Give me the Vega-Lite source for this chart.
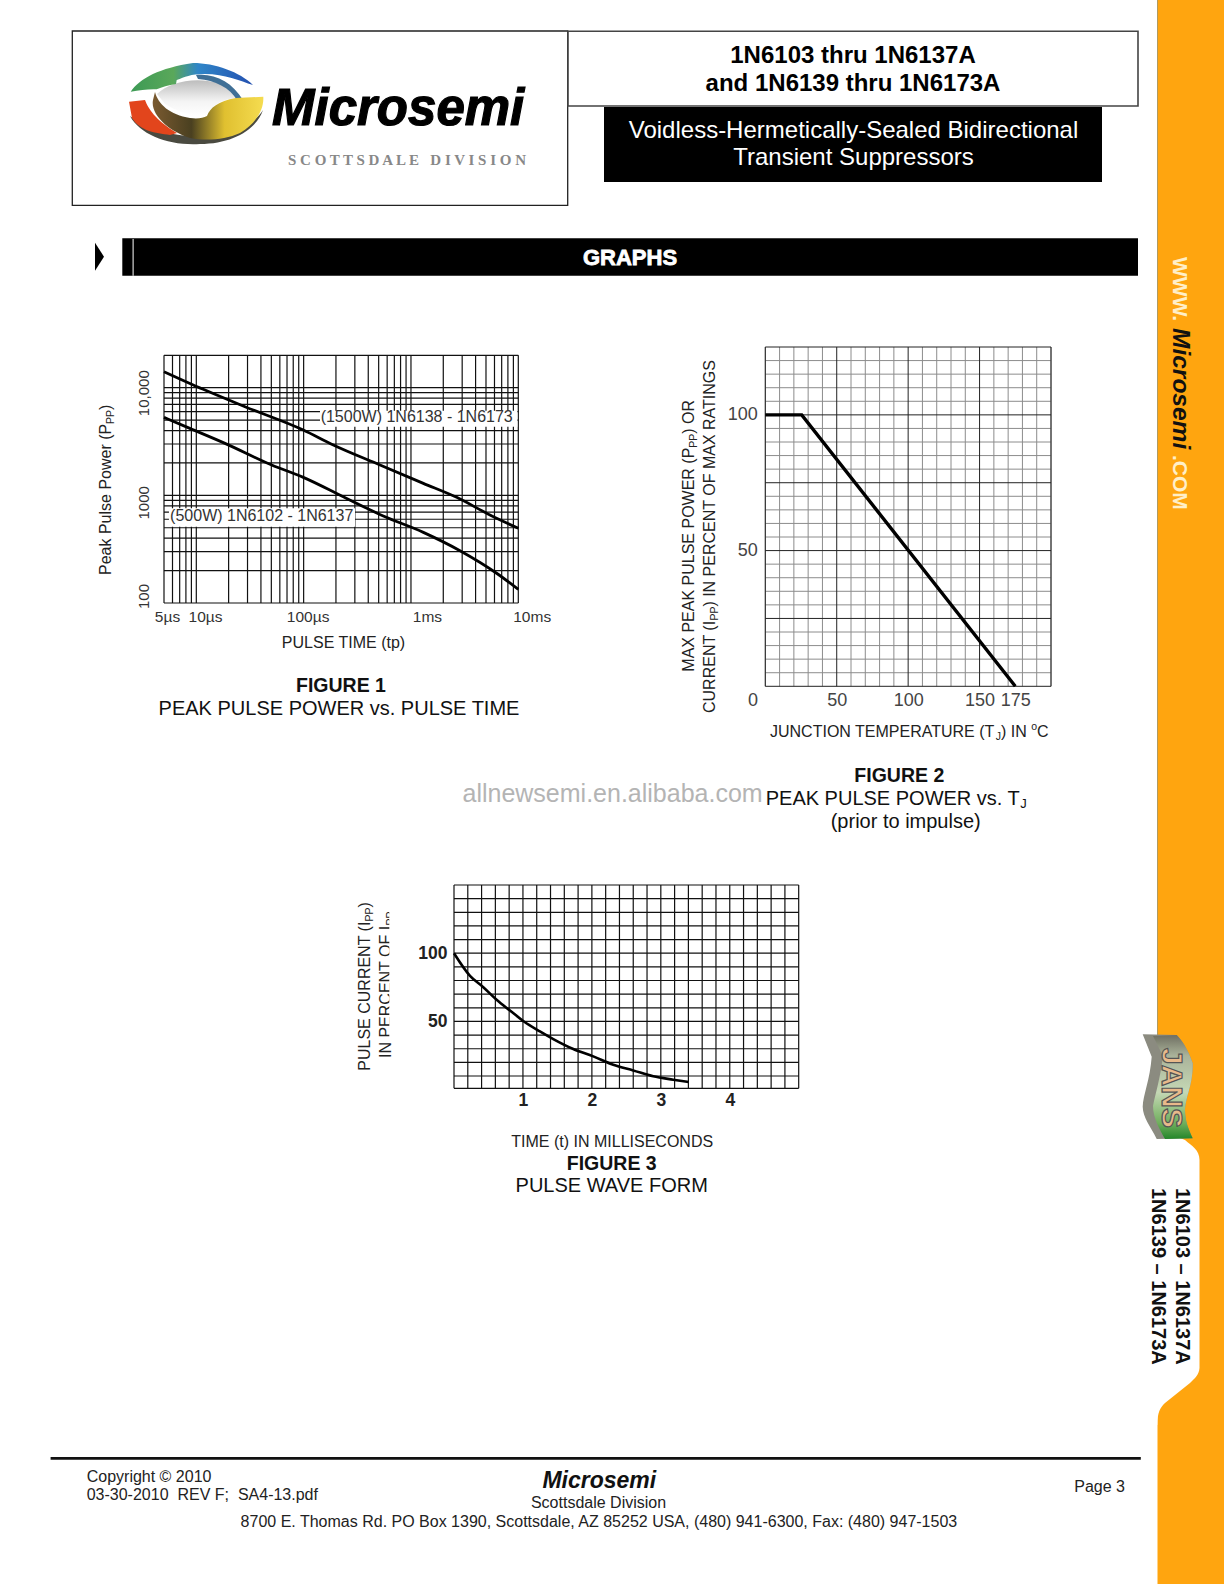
{"$schema":"https://vega.github.io/schema/vega-lite/v6.json","width":1224,"height":1584,"padding":0,"autosize":{"type":"none"},"background":"white","config":{"view":{"stroke":null}},"resolve":{"scale":{"x":"independent","y":"independent"},"axis":{"x":"independent","y":"independent"}},"layer":[
{"data":{"values":[{"part":"sidebar"}]},"mark":{"type":"rect","x":1157.5,"x2":1224,"y":0,"y2":1584,"fill":"#FFA50F","strokeWidth":0},"encoding":{}},
{"data":{"values":[{"part":"sidebar edge"}]},"mark":{"type":"rect","x":1157,"x2":1158,"y":0,"y2":1130,"fill":"#b09a60"},"encoding":{}},
{"data":{"values":[{"part":"tab"}]},"mark":{"type":"point","shape":"M1156,1128 L1185,1140 C1192,1146 1199.5,1150 1199.5,1160 L1199.5,1368 C1199,1375 1195,1378 1190,1383 L1165,1403 C1160,1408 1157.5,1412 1157.3,1425 L1156,1425 Z","size":4,"x":0,"y":0,"filled":true,"fill":"white","strokeWidth":0,"opacity":1},"encoding":{}},
{"data":{"values":[{"part":"banner"}]},"mark":{"type":"point","shape":"M1142.7,1034.3 L1176.7,1035 C1184,1042 1190,1055 1192.7,1063.3 C1193,1085 1186,1095 1185,1110 C1185,1122 1189,1130 1192.7,1138.3 L1156.7,1139 C1150,1125 1143,1118 1142.7,1106.7 C1143,1095 1150,1080 1151.7,1056.7 Z","size":4,"x":0,"y":0,"filled":true,"fill":"#8b8b80","strokeWidth":0,"opacity":1},"encoding":{}},
{"data":{"values":[{"part":"banner face"}]},"mark":{"type":"point","shape":"M1153,1036 L1176.7,1035 C1184,1042 1190,1055 1192.7,1063.3 C1193,1085 1186,1095 1185,1110 C1185,1122 1189,1130 1192.7,1138.3 L1165,1139 C1160,1130 1153,1118 1153,1106 C1155,1095 1160,1080 1163,1056 Z","size":4,"x":0,"y":0,"filled":true,"fill":{"gradient":"linear","x1":0,"y1":0,"x2":0,"y2":1,"stops":[{"offset":0,"color":"#6f6f62"},{"offset":0.2,"color":"#aab39a"},{"offset":0.55,"color":"#c5d8b5"},{"offset":0.85,"color":"#6fae5c"},{"offset":1,"color":"#23862a"}]},"strokeWidth":0,"opacity":1},"encoding":{}},
{"data":{"values":[{"t":"JANS"}]},"mark":{"type":"text","font":"Liberation Sans","fontWeight":"bold","fontSize":30,"angle":90,"align":"left","baseline":"alphabetic","x":1162,"y":1048,"fill":"#e8b98a","stroke":"#555555","strokeWidth":1.2},"encoding":{"text":{"field":"t"}}},
{"data":{"values":[{"t":"WWW."}]},"mark":{"type":"text","font":"Liberation Sans","fontWeight":"bold","fontSize":21,"angle":90,"align":"left","baseline":"alphabetic","x":1172.5,"y":257,"fill":"#FFEFC8"},"encoding":{"text":{"field":"t"}}},
{"data":{"values":[{"t":"Microsemi"}]},"mark":{"type":"text","font":"Liberation Sans","fontWeight":"bold","fontStyle":"italic","fontSize":24.5,"angle":90,"align":"left","baseline":"alphabetic","x":1172.5,"y":328,"fill":"#111111"},"encoding":{"text":{"field":"t"}}},
{"data":{"values":[{"t":".COM"}]},"mark":{"type":"text","font":"Liberation Sans","fontWeight":"bold","fontSize":21,"angle":90,"align":"left","baseline":"alphabetic","x":1172.5,"y":455,"fill":"#FFEFC8"},"encoding":{"text":{"field":"t"}}},
{"data":{"values":[{"t":"1N6103 – 1N6137A"}]},"mark":{"type":"text","font":"Liberation Sans","fontWeight":"bold","fontSize":20,"angle":90,"align":"left","baseline":"alphabetic","x":1176,"y":1188,"fill":"#111111"},"encoding":{"text":{"field":"t"}}},
{"data":{"values":[{"t":"1N6139 – 1N6173A"}]},"mark":{"type":"text","font":"Liberation Sans","fontWeight":"bold","fontSize":20,"angle":90,"align":"left","baseline":"alphabetic","x":1152,"y":1188,"fill":"#111111"},"encoding":{"text":{"field":"t"}}},

{"data":{"values":[{"part":"logo box"}]},"mark":{"type":"rect","x":72.3,"x2":567.7,"y":31,"y2":205.3,"fill":"white","stroke":"#222222","strokeWidth":1.3},"encoding":{}},
{"data":{"values":[{"part":"title box"}]},"mark":{"type":"rect","x":568,"x2":1138,"y":31.3,"y2":106,"fill":"white","stroke":"#444444","strokeWidth":1.6},"encoding":{}},
{"data":{"values":[{"part":"subtitle box"}]},"mark":{"type":"rect","x":604,"x2":1102,"y":107,"y2":182,"fill":"#000000"},"encoding":{}},
{"data":{"values":[{"part":"graphs bar"}]},"mark":{"type":"rect","x":122.3,"x2":1138,"y":238.3,"y2":275.7,"fill":"#000000"},"encoding":{}},
{"data":{"values":[{"part":"graphs bar divider"}]},"mark":{"type":"rect","x":132.6,"x2":133.6,"y":239,"y2":275.7,"fill":"#ffffff"},"encoding":{}},
{"data":{"values":[{"part":"arrow"}]},"mark":{"type":"point","shape":"M95,242.7 L104,256.7 L95,270.7 Z","size":4,"x":0,"y":0,"filled":true,"fill":"#000000","strokeWidth":0,"opacity":1},"encoding":{}},
{"data":{"values":[{"part":"footer line"}]},"mark":{"type":"rect","x":50.6,"x2":1140.8,"y":1457,"y2":1459.7,"fill":"#111111"},"encoding":{}},

{"data":{"values":[{"part":"logo shadow"}]},"mark":{"type":"point","shape":"M130,116 C140,135 170,146 200,144 C232,144 256,130 263,110 C255,125 225,136 195,136 C170,136 145,128 130,116 Z","size":4,"x":0,"y":0,"filled":true,"fill":"#4a4a40","strokeWidth":0,"opacity":1},"encoding":{}},
{"data":{"values":[{"part":"logo hollow"}]},"mark":{"type":"point","shape":"M157,94 C170,82 195,76 222,84 C233,89 238,95 241,98 C226,98 215,102 208,114 C195,118 178,112 165,104 Z","size":4,"x":0,"y":0,"filled":true,"fill":{"gradient":"linear","x1":0,"y1":0,"x2":0,"y2":1,"stops":[{"offset":0,"color":"#bdbdbd"},{"offset":0.6,"color":"#f4f4f4"},{"offset":1,"color":"#ffffff"}]},"strokeWidth":0,"opacity":1},"encoding":{}},
{"data":{"values":[{"part":"logo red"}]},"mark":{"type":"point","shape":"M129,101.7 L145,100 C148,108 155,120 177,133 L170,135 C155,133 140,131 132,118 Z","size":4,"x":0,"y":0,"filled":true,"fill":"#e2451c","strokeWidth":0,"opacity":1},"encoding":{}},
{"data":{"values":[{"part":"logo inner arc"}]},"mark":{"type":"point","shape":"M196,75 C215,73 232,82 243,100 L237,100 C230,88 215,80 198,79 Z","size":4,"x":0,"y":0,"filled":true,"fill":"#3f6f96","strokeWidth":0,"opacity":1},"encoding":{}},
{"data":{"values":[{"part":"logo top arc"}]},"mark":{"type":"point","shape":"M130.7,91.7 C140,78 160,68 193,63 C215,63 240,72 253,85 C240,81 225,74 205,74 C190,74 185,77 176.7,80 L176,84 C168,85 162,87 156.7,89.3 C148,89 140,90 130.7,91.7 Z","size":4,"x":0,"y":0,"filled":true,"fill":{"gradient":"linear","x1":0,"y1":0,"x2":1,"y2":0,"stops":[{"offset":0,"color":"#3d9a55"},{"offset":0.35,"color":"#5aa85a"},{"offset":0.55,"color":"#2f86c8"},{"offset":1,"color":"#2450b0"}]},"strokeWidth":0,"opacity":1},"encoding":{}},
{"data":{"values":[{"part":"logo swoosh"}]},"mark":{"type":"point","shape":"M155,92 C158,104 170,115 190,118 C198,119 203,118 207,116 C210,108 218,101 236,98 C245,98 255,97 263.3,96.7 C264,108 258,122 240,133 C225,140 205,141 190,138 C170,132 150,115 153,100 Z","size":4,"x":0,"y":0,"filled":true,"fill":{"gradient":"linear","x1":0,"y1":0,"x2":1,"y2":0,"stops":[{"offset":0,"color":"#7a5a30"},{"offset":0.35,"color":"#4a4020"},{"offset":0.65,"color":"#e0c030"},{"offset":1,"color":"#f5dc50"}]},"strokeWidth":0,"opacity":1},"encoding":{}},
{"data":{"values":[{"t":"Microsemi"}]},"mark":{"type":"text","font":"Liberation Sans","fontWeight":"bold","fontStyle":"italic","fontSize":51,"align":"left","baseline":"alphabetic","x":272,"y":125,"fill":"#000000","stroke":"#000000","strokeWidth":1.2},"encoding":{"text":{"field":"t"}}},
{"data":{"values":[{"t":"S C O T T S D A L E \u00a0 D I V I S I O N"}]},"mark":{"type":"text","font":"Liberation Serif","fontWeight":"bold","fontSize":15,"align":"left","baseline":"alphabetic","x":288,"y":165,"fill":"#888888"},"encoding":{"text":{"field":"t"}}},

{"data":{"values":[{"t":"1N6103 thru 1N6137A"}]},"mark":{"type":"text","font":"Liberation Sans","fontWeight":"bold","fontSize":24,"align":"center","baseline":"alphabetic","x":853,"y":63,"fill":"#000000"},"encoding":{"text":{"field":"t"}}},
{"data":{"values":[{"t":"and 1N6139 thru 1N6173A"}]},"mark":{"type":"text","font":"Liberation Sans","fontWeight":"bold","fontSize":24,"align":"center","baseline":"alphabetic","x":853,"y":91,"fill":"#000000"},"encoding":{"text":{"field":"t"}}},
{"data":{"values":[{"t":"Voidless-Hermetically-Sealed Bidirectional"}]},"mark":{"type":"text","font":"Liberation Sans","fontSize":24,"align":"center","baseline":"alphabetic","x":853.5,"y":137.5,"fill":"#ffffff"},"encoding":{"text":{"field":"t"}}},
{"data":{"values":[{"t":"Transient Suppressors"}]},"mark":{"type":"text","font":"Liberation Sans","fontSize":24,"align":"center","baseline":"alphabetic","x":853.5,"y":165,"fill":"#ffffff"},"encoding":{"text":{"field":"t"}}},
{"data":{"values":[{"t":"GRAPHS"}]},"mark":{"type":"text","font":"Liberation Sans","fontWeight":"bold","fontSize":22,"align":"center","baseline":"alphabetic","x":630,"y":265,"fill":"#ffffff","stroke":"#ffffff","strokeWidth":0.8},"encoding":{"text":{"field":"t"}}},

{"data":{"values":[{"t":5},{"t":6},{"t":7},{"t":8},{"t":9},{"t":10},{"t":20},{"t":30},{"t":40},{"t":50},{"t":60},{"t":70},{"t":80},{"t":90},{"t":100},{"t":200},{"t":300},{"t":400},{"t":500},{"t":600},{"t":700},{"t":800},{"t":900},{"t":1000},{"t":2000},{"t":3000},{"t":4000},{"t":5000},{"t":6000},{"t":7000},{"t":8000},{"t":9000},{"t":10000}]},"mark":{"type":"rule","stroke":"#111111","strokeWidth":1.2},"encoding":{"x":{"field":"t","type":"quantitative","scale":{"type":"log","domain":[5,10000],"range":[164,518.3],"nice":false},"axis":null},"y":{"datum":100,"type":"quantitative","scale":{"type":"log","domain":[100,20000],"range":[603,355.3],"nice":false},"axis":null},"y2":{"datum":20000}}},
{"data":{"values":[{"p":100},{"p":200},{"p":300},{"p":400},{"p":500},{"p":600},{"p":700},{"p":800},{"p":900},{"p":1000},{"p":2000},{"p":3000},{"p":4000},{"p":5000},{"p":6000},{"p":7000},{"p":8000},{"p":9000},{"p":10000},{"p":20000}]},"mark":{"type":"rule","stroke":"#111111","strokeWidth":1.2},"encoding":{"y":{"field":"p","type":"quantitative","scale":{"type":"log","domain":[100,20000],"range":[603,355.3],"nice":false},"axis":null},"x":{"datum":5,"type":"quantitative","scale":{"type":"log","domain":[5,10000],"range":[164,518.3],"nice":false},"axis":null},"x2":{"datum":10000}}},
{"data":{"values":[{"t0":142,"t1":9800,"p0":6110,"p1":4340},{"t0":5.56,"t1":301,"p0":757,"p1":512}]},"mark":{"type":"rect","fill":"#ffffff"},"encoding":{"x":{"field":"t0","type":"quantitative","scale":{"type":"log","domain":[5,10000],"range":[164,518.3],"nice":false},"axis":null},"x2":{"field":"t1"},"y":{"field":"p0","type":"quantitative","scale":{"type":"log","domain":[100,20000],"range":[603,355.3],"nice":false},"axis":null},"y2":{"field":"p1"}}},
{"data":{"values":[{"label":"(1500W) 1N6138 - 1N6173","t":144,"p":5300},{"label":"(500W) 1N6102 - 1N6137","t":5.7,"p":647}]},"mark":{"type":"text","font":"Liberation Sans","fontSize":16,"align":"left","baseline":"middle","fill":"#333333"},"encoding":{"text":{"field":"label"},"x":{"field":"t","type":"quantitative","scale":{"type":"log","domain":[5,10000],"range":[164,518.3],"nice":false},"axis":null},"y":{"field":"p","type":"quantitative","scale":{"type":"log","domain":[100,20000],"range":[603,355.3],"nice":false},"axis":null}}},
{"data":{"values":[{"series":"1500W","t":5,"p":14090},{"series":"1500W","t":11.6,"p":9660},{"series":"1500W","t":28.4,"p":6660},{"series":"1500W","t":99.3,"p":4045},{"series":"1500W","t":189,"p":2934},{"series":"1500W","t":515,"p":1914},{"series":"1500W","t":1304,"p":1293},{"series":"1500W","t":2666,"p":958},{"series":"1500W","t":5445,"p":657},{"series":"1500W","t":10000,"p":494},{"series":"500W","t":5,"p":5300},{"series":"500W","t":8.7,"p":4190},{"series":"500W","t":18.5,"p":3040},{"series":"500W","t":50.4,"p":1914},{"series":"500W","t":99.3,"p":1470},{"series":"500W","t":234,"p":972},{"series":"500W","t":552,"p":643},{"series":"500W","t":1304,"p":453},{"series":"500W","t":2863,"p":306},{"series":"500W","t":6280,"p":189},{"series":"500W","t":10000,"p":134}]},"mark":{"type":"line","stroke":"#000000","strokeWidth":2.8,"interpolate":"monotone"},"encoding":{"detail":{"field":"series"},"x":{"field":"t","type":"quantitative","scale":{"type":"log","domain":[5,10000],"range":[164,518.3],"nice":false},"axis":{"orient":"bottom","offset":-981,"values":[5,10,100,1000,10000],"domain":false,"ticks":false,"tickSize":0,"grid":false,"labelFont":"Liberation Sans","labelFontSize":15.5,"labelColor":"#333333","labelBaseline":"middle","labelPadding":13.7,"labelOverlap":false,"labelFlush":false,"labelBound":false,"labelExpr":"datum.value==5?'5µs':datum.value==10?'10µs':datum.value==100?'100µs':datum.value==1000?'1ms':'10ms'","encoding":{"labels":{"dx":{"value":{"expr":"datum.value==5?3:datum.value==10?8.7:datum.value==100?4:datum.value==1000?16:13.4"}}}},"title":"PULSE TIME (tp)","titleFont":"Liberation Sans","titleFontSize":16,"titleFontWeight":"normal","titleColor":"#222222","titleX":343,"titleY":39,"titleBaseline":"middle"}},"y":{"field":"p","type":"quantitative","scale":{"type":"log","domain":[100,20000],"range":[603,355.3],"nice":false},"axis":{"orient":"left","offset":-164,"values":[100,1000,10000],"domain":false,"ticks":false,"tickSize":0,"grid":false,"labelFont":"Liberation Sans","labelFontSize":15,"labelColor":"#333333","labelAngle":270,"labelAlign":"center","labelBaseline":"middle","labelPadding":21,"labelOverlap":false,"labelFlush":false,"labelBound":false,"labelExpr":"datum.value==100?'100':datum.value==1000?'1000':'10,000'","encoding":{"labels":{"dx":{"value":{"expr":"datum.value==100?7:datum.value==1000?-7:-5"}}}},"title":null}}}},
{"data":{"values":[{"t":"Peak Pulse Power (P"}]},"mark":{"type":"text","font":"Liberation Sans","fontSize":16,"angle":270,"align":"left","baseline":"alphabetic","x":110.5,"y":575,"fill":"#222222"},"encoding":{"text":{"field":"t"}}},
{"data":{"values":[{"t":"PP"}]},"mark":{"type":"text","font":"Liberation Sans","fontSize":10.5,"angle":270,"align":"left","baseline":"alphabetic","x":113.5,"y":424,"fill":"#222222"},"encoding":{"text":{"field":"t"}}},
{"data":{"values":[{"t":")"}]},"mark":{"type":"text","font":"Liberation Sans","fontSize":16,"angle":270,"align":"left","baseline":"alphabetic","x":110.5,"y":410,"fill":"#222222"},"encoding":{"text":{"field":"t"}}},
{"data":{"values":[{"t":"FIGURE 1"}]},"mark":{"type":"text","font":"Liberation Sans","fontWeight":"bold","fontSize":19.5,"align":"center","baseline":"alphabetic","x":341,"y":692,"fill":"#111111"},"encoding":{"text":{"field":"t"}}},
{"data":{"values":[{"t":"PEAK PULSE POWER vs. PULSE TIME"}]},"mark":{"type":"text","font":"Liberation Sans","fontSize":20,"align":"center","baseline":"alphabetic","x":339,"y":715,"fill":"#111111"},"encoding":{"text":{"field":"t"}}},

{"data":{"values":[{"t":0},{"t":10},{"t":20},{"t":30},{"t":40},{"t":60},{"t":70},{"t":80},{"t":90},{"t":110},{"t":120},{"t":130},{"t":140},{"t":160},{"t":170},{"t":180},{"t":190},{"t":200}]},"mark":{"type":"rule","stroke":"#8c8c8c","strokeWidth":1},"encoding":{"x":{"field":"t","type":"quantitative","scale":{"type":"linear","domain":[0,200],"range":[765.3,1051],"nice":false,"zero":false},"axis":null},"y":{"datum":0,"type":"quantitative","scale":{"type":"linear","domain":[0,125],"range":[686.3,347],"nice":false,"zero":false},"axis":null},"y2":{"datum":125}}},
{"data":{"values":[{"p":5},{"p":10},{"p":15},{"p":20},{"p":30},{"p":35},{"p":40},{"p":45},{"p":55},{"p":60},{"p":65},{"p":70},{"p":80},{"p":85},{"p":90},{"p":95},{"p":105},{"p":110},{"p":115},{"p":120}]},"mark":{"type":"rule","stroke":"#8c8c8c","strokeWidth":1},"encoding":{"y":{"field":"p","type":"quantitative","scale":{"type":"linear","domain":[0,125],"range":[686.3,347],"nice":false,"zero":false},"axis":null},"x":{"datum":0,"type":"quantitative","scale":{"type":"linear","domain":[0,200],"range":[765.3,1051],"nice":false,"zero":false},"axis":null},"x2":{"datum":200}}},
{"data":{"values":[{"t":0},{"t":50},{"t":100},{"t":150},{"t":200}]},"mark":{"type":"rule","stroke":"#222222","strokeWidth":1},"encoding":{"x":{"field":"t","type":"quantitative","scale":{"type":"linear","domain":[0,200],"range":[765.3,1051],"nice":false,"zero":false},"axis":null},"y":{"datum":0,"type":"quantitative","scale":{"type":"linear","domain":[0,125],"range":[686.3,347],"nice":false,"zero":false},"axis":null},"y2":{"datum":125}}},
{"data":{"values":[{"p":0},{"p":25},{"p":50},{"p":75},{"p":100},{"p":125}]},"mark":{"type":"rule","stroke":"#222222","strokeWidth":1},"encoding":{"y":{"field":"p","type":"quantitative","scale":{"type":"linear","domain":[0,125],"range":[686.3,347],"nice":false,"zero":false},"axis":null},"x":{"datum":0,"type":"quantitative","scale":{"type":"linear","domain":[0,200],"range":[765.3,1051],"nice":false,"zero":false},"axis":null},"x2":{"datum":200}}},
{"data":{"values":[{"t":0,"p":100},{"t":25.5,"p":100},{"t":175,"p":0}]},"mark":{"type":"line","stroke":"#000000","strokeWidth":3.4},"encoding":{"x":{"field":"t","type":"quantitative","scale":{"type":"linear","domain":[0,200],"range":[765.3,1051],"nice":false,"zero":false},"axis":{"orient":"bottom","offset":-897.7,"values":[0,50,100,150,175],"domain":false,"ticks":false,"tickSize":0,"grid":false,"labelFont":"Liberation Sans","labelFontSize":18,"labelColor":"#444444","labelBaseline":"middle","labelPadding":14.4,"labelOverlap":false,"labelFlush":false,"labelBound":false,"encoding":{"labels":{"dx":{"value":{"expr":"datum.value==0?-12.7:0"}}}},"title":null}},"y":{"field":"p","type":"quantitative","scale":{"type":"linear","domain":[0,125],"range":[686.3,347],"nice":false,"zero":false},"axis":{"orient":"left","offset":-765.3,"values":[50,100],"domain":false,"ticks":false,"tickSize":0,"grid":false,"labelFont":"Liberation Sans","labelFontSize":18,"labelColor":"#444444","labelPadding":8,"labelOverlap":false,"labelFlush":false,"labelBound":false,"title":null}}}},
{"data":{"values":[{"t":"MAX PEAK PULSE POWER (P"}]},"mark":{"type":"text","font":"Liberation Sans","fontSize":16,"angle":270,"align":"left","baseline":"alphabetic","x":693.7,"y":671.7,"fill":"#222222"},"encoding":{"text":{"field":"t"}}},
{"data":{"values":[{"t":"PP"}]},"mark":{"type":"text","font":"Liberation Sans","fontSize":10.5,"angle":270,"align":"left","baseline":"alphabetic","x":696.7,"y":447.7,"fill":"#222222"},"encoding":{"text":{"field":"t"}}},
{"data":{"values":[{"t":") OR"}]},"mark":{"type":"text","font":"Liberation Sans","fontSize":16,"angle":270,"align":"left","baseline":"alphabetic","x":693.7,"y":433.7,"fill":"#222222"},"encoding":{"text":{"field":"t"}}},
{"data":{"values":[{"t":"CURRENT (I"}]},"mark":{"type":"text","font":"Liberation Sans","fontSize":16,"angle":270,"align":"left","baseline":"alphabetic","x":714.7,"y":713,"fill":"#222222"},"encoding":{"text":{"field":"t"}}},
{"data":{"values":[{"t":"PP"}]},"mark":{"type":"text","font":"Liberation Sans","fontSize":10.5,"angle":270,"align":"left","baseline":"alphabetic","x":717.7,"y":620.6,"fill":"#222222"},"encoding":{"text":{"field":"t"}}},
{"data":{"values":[{"t":") IN PERCENT OF MAX RATINGS"}]},"mark":{"type":"text","font":"Liberation Sans","fontSize":16,"angle":270,"align":"left","baseline":"alphabetic","x":714.7,"y":606.6,"fill":"#222222"},"encoding":{"text":{"field":"t"}}},
{"data":{"values":[{"t":"JUNCTION TEMPERATURE (T"}]},"mark":{"type":"text","font":"Liberation Sans","fontSize":16,"align":"left","baseline":"alphabetic","x":770,"y":737,"fill":"#222222"},"encoding":{"text":{"field":"t"}}},
{"data":{"values":[{"t":"J"}]},"mark":{"type":"text","font":"Liberation Sans","fontSize":10.5,"align":"left","baseline":"alphabetic","x":995.8,"y":740,"fill":"#222222"},"encoding":{"text":{"field":"t"}}},
{"data":{"values":[{"t":") IN"}]},"mark":{"type":"text","font":"Liberation Sans","fontSize":16,"align":"left","baseline":"alphabetic","x":1001,"y":737,"fill":"#222222"},"encoding":{"text":{"field":"t"}}},
{"data":{"values":[{"t":"o"}]},"mark":{"type":"text","font":"Liberation Sans","fontSize":10.5,"align":"left","baseline":"alphabetic","x":1031.3,"y":730,"fill":"#222222"},"encoding":{"text":{"field":"t"}}},
{"data":{"values":[{"t":"C"}]},"mark":{"type":"text","font":"Liberation Sans","fontSize":16,"align":"left","baseline":"alphabetic","x":1037.1,"y":737,"fill":"#222222"},"encoding":{"text":{"field":"t"}}},
{"data":{"values":[{"t":"FIGURE 2"}]},"mark":{"type":"text","font":"Liberation Sans","fontWeight":"bold","fontSize":19.5,"align":"center","baseline":"alphabetic","x":899.3,"y":782,"fill":"#111111"},"encoding":{"text":{"field":"t"}}},
{"data":{"values":[{"t":"PEAK PULSE POWER vs. T"}]},"mark":{"type":"text","font":"Liberation Sans","fontSize":20,"align":"left","baseline":"alphabetic","x":765.7,"y":804.7,"fill":"#111111"},"encoding":{"text":{"field":"t"}}},
{"data":{"values":[{"t":"J"}]},"mark":{"type":"text","font":"Liberation Sans","fontSize":13,"align":"left","baseline":"alphabetic","x":1020.2,"y":807.5,"fill":"#111111"},"encoding":{"text":{"field":"t"}}},
{"data":{"values":[{"t":"(prior to impulse)"}]},"mark":{"type":"text","font":"Liberation Sans","fontSize":20,"align":"center","baseline":"alphabetic","x":905.7,"y":828,"fill":"#111111"},"encoding":{"text":{"field":"t"}}},
{"data":{"values":[{"t":"allnewsemi.en.alibaba.com"}]},"mark":{"type":"text","font":"Liberation Sans","fontSize":25,"align":"left","baseline":"alphabetic","x":462.5,"y":802,"fill":"#b4b4b4"},"encoding":{"text":{"field":"t"}}},

{"data":{"values":[{"t":0},{"t":0.2},{"t":0.4},{"t":0.6},{"t":0.8},{"t":1},{"t":1.2},{"t":1.4},{"t":1.6},{"t":1.8},{"t":2},{"t":2.2},{"t":2.4},{"t":2.6},{"t":2.8},{"t":3},{"t":3.2},{"t":3.4},{"t":3.6},{"t":3.8},{"t":4},{"t":4.2},{"t":4.4},{"t":4.6},{"t":4.8},{"t":5}]},"mark":{"type":"rule","stroke":"#111111","strokeWidth":1.2},"encoding":{"x":{"field":"t","type":"quantitative","scale":{"type":"linear","domain":[0,5],"range":[454,798.7],"nice":false,"zero":false},"axis":null},"y":{"datum":1,"type":"quantitative","scale":{"type":"linear","domain":[1,150],"range":[1088.3,885],"nice":false,"zero":false},"axis":null},"y2":{"datum":150}}},
{"data":{"values":[{"p":1},{"p":10},{"p":20},{"p":30},{"p":40},{"p":50},{"p":60},{"p":70},{"p":80},{"p":90},{"p":100},{"p":110},{"p":120},{"p":130},{"p":140},{"p":150}]},"mark":{"type":"rule","stroke":"#111111","strokeWidth":1.2},"encoding":{"y":{"field":"p","type":"quantitative","scale":{"type":"linear","domain":[1,150],"range":[1088.3,885],"nice":false,"zero":false},"axis":null},"x":{"datum":0,"type":"quantitative","scale":{"type":"linear","domain":[0,5],"range":[454,798.7],"nice":false,"zero":false},"axis":null},"x2":{"datum":5}}},
{"data":{"values":[{"t":0,"p":100},{"t":0.232,"p":83.4},{"t":0.425,"p":75.1},{"t":0.618,"p":65.9},{"t":0.812,"p":58},{"t":1.014,"p":50},{"t":1.246,"p":42.7},{"t":1.44,"p":37.1},{"t":1.73,"p":29.8},{"t":2.02,"p":24.4},{"t":2.31,"p":18.3},{"t":2.6,"p":14.1},{"t":2.89,"p":9.8},{"t":3.18,"p":7.3},{"t":3.4,"p":5.6}]},"mark":{"type":"line","stroke":"#000000","strokeWidth":2.6,"interpolate":"monotone"},"encoding":{"x":{"field":"t","type":"quantitative","scale":{"type":"linear","domain":[0,5],"range":[454,798.7],"nice":false,"zero":false},"axis":{"orient":"bottom","offset":-495.7,"values":[1,2,3,4],"domain":false,"ticks":false,"tickSize":0,"grid":false,"labelFont":"Liberation Sans","labelFontSize":17.5,"labelFontWeight":"bold","labelColor":"#222222","labelBaseline":"middle","labelPadding":11.7,"labelOverlap":false,"labelFlush":false,"labelBound":false,"title":"TIME (t) IN MILLISECONDS","titleFont":"Liberation Sans","titleFontSize":16,"titleFontWeight":"normal","titleColor":"#222222","titleX":611.7,"titleY":53.4,"titleBaseline":"middle"}},"y":{"field":"p","type":"quantitative","scale":{"type":"linear","domain":[1,150],"range":[1088.3,885],"nice":false,"zero":false},"axis":{"orient":"left","offset":-454,"values":[50,100],"domain":false,"ticks":false,"tickSize":0,"grid":false,"labelFont":"Liberation Sans","labelFontSize":17.5,"labelFontWeight":"bold","labelColor":"#222222","labelPadding":7,"labelOverlap":false,"labelFlush":false,"labelBound":false,"title":null}}}},
{"data":{"values":[{"t":"PULSE CURRENT (I"}]},"mark":{"type":"text","font":"Liberation Sans","fontSize":16,"angle":270,"align":"left","baseline":"alphabetic","x":369.7,"y":1070.7,"fill":"#222222"},"encoding":{"text":{"field":"t"}}},
{"data":{"values":[{"t":"PP"}]},"mark":{"type":"text","font":"Liberation Sans","fontSize":10.5,"angle":270,"align":"left","baseline":"alphabetic","x":372.7,"y":921.4,"fill":"#222222"},"encoding":{"text":{"field":"t"}}},
{"data":{"values":[{"t":")"}]},"mark":{"type":"text","font":"Liberation Sans","fontSize":16,"angle":270,"align":"left","baseline":"alphabetic","x":369.7,"y":907.4,"fill":"#222222"},"encoding":{"text":{"field":"t"}}},
{"data":{"values":[{"t":"IN PERCENT OF I"}]},"mark":{"type":"text","font":"Liberation Sans","fontSize":16,"angle":270,"align":"left","baseline":"alphabetic","x":391,"y":1058,"fill":"#222222"},"encoding":{"text":{"field":"t"}}},
{"data":{"values":[{"t":"PP"}]},"mark":{"type":"text","font":"Liberation Sans","fontSize":10.5,"angle":270,"align":"left","baseline":"alphabetic","x":394,"y":925.5,"fill":"#222222"},"encoding":{"text":{"field":"t"}}},
{"data":{"values":[{"part":"text clip"}]},"mark":{"type":"rect","x":389.3,"x2":397,"y":905,"y2":1040,"fill":"#ffffff"},"encoding":{}},
{"data":{"values":[{"t":"FIGURE 3"}]},"mark":{"type":"text","font":"Liberation Sans","fontWeight":"bold","fontSize":19.5,"align":"center","baseline":"alphabetic","x":611.7,"y":1170,"fill":"#111111"},"encoding":{"text":{"field":"t"}}},
{"data":{"values":[{"t":"PULSE WAVE FORM"}]},"mark":{"type":"text","font":"Liberation Sans","fontSize":20,"align":"center","baseline":"alphabetic","x":611.7,"y":1192,"fill":"#111111"},"encoding":{"text":{"field":"t"}}},

{"data":{"values":[{"t":"Copyright © 2010"}]},"mark":{"type":"text","font":"Liberation Sans","fontSize":16,"align":"left","baseline":"alphabetic","x":86.7,"y":1481.7,"fill":"#222222"},"encoding":{"text":{"field":"t"}}},
{"data":{"values":[{"t":"03-30-2010 \u00a0REV F; \u00a0SA4-13.pdf"}]},"mark":{"type":"text","font":"Liberation Sans","fontSize":16,"align":"left","baseline":"alphabetic","x":86.7,"y":1500,"fill":"#222222"},"encoding":{"text":{"field":"t"}}},
{"data":{"values":[{"t":"Microsemi"}]},"mark":{"type":"text","font":"Liberation Sans","fontWeight":"bold","fontStyle":"italic","fontSize":23,"align":"center","baseline":"alphabetic","x":599.3,"y":1487.5,"fill":"#111111"},"encoding":{"text":{"field":"t"}}},
{"data":{"values":[{"t":"Scottsdale Division"}]},"mark":{"type":"text","font":"Liberation Sans","fontSize":16,"align":"center","baseline":"alphabetic","x":598.5,"y":1508,"fill":"#222222"},"encoding":{"text":{"field":"t"}}},
{"data":{"values":[{"t":"8700 E. Thomas Rd. PO Box 1390, Scottsdale, AZ 85252 USA, (480) 941-6300, Fax: (480) 947-1503"}]},"mark":{"type":"text","font":"Liberation Sans","fontSize":16,"align":"center","baseline":"alphabetic","x":598.9,"y":1527,"fill":"#222222"},"encoding":{"text":{"field":"t"}}},
{"data":{"values":[{"t":"Page 3"}]},"mark":{"type":"text","font":"Liberation Sans","fontSize":16,"align":"right","baseline":"alphabetic","x":1125,"y":1492,"fill":"#222222"},"encoding":{"text":{"field":"t"}}}
]}
